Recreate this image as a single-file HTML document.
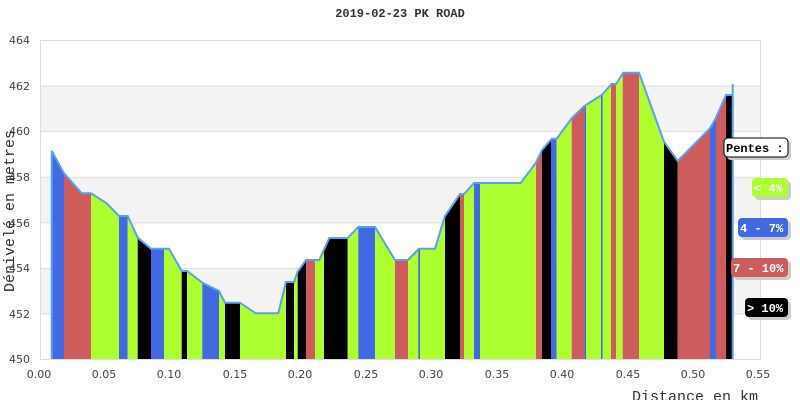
<!DOCTYPE html>
<html><head><meta charset="utf-8"><style>
html,body{margin:0;padding:0;background:#fff;}
svg{display:block;}
.t{font-family:"DejaVu Sans","Liberation Sans",sans-serif;font-size:11px;fill:#444;}
.m{font-family:"Liberation Mono","DejaVu Sans Mono",monospace;font-weight:bold;}
</style></head><body>
<svg width="800" height="400" viewBox="0 0 800 400" xmlns="http://www.w3.org/2000/svg">
<rect width="800" height="400" fill="#fff"/>
<text x="400" y="17" text-anchor="middle" class="m" font-size="12" fill="#333">2019-02-23 PK ROAD</text>
<rect x="40" y="86" width="720" height="45.6" fill="#f3f3f3"/>
<rect x="40" y="177.3" width="720" height="45.6" fill="#f3f3f3"/>
<rect x="40" y="268.4" width="720" height="45.6" fill="#f3f3f3"/>
<g stroke="#ddd" stroke-width="1">
<line x1="40" y1="40.5" x2="760" y2="40.5"/><line x1="40" y1="86" x2="760" y2="86"/>
<line x1="40" y1="131.6" x2="760" y2="131.6"/><line x1="40" y1="177.3" x2="760" y2="177.3"/>
<line x1="40" y1="222.9" x2="760" y2="222.9"/><line x1="40" y1="268.4" x2="760" y2="268.4"/>
<line x1="40" y1="314" x2="760" y2="314"/><line x1="40" y1="359.5" x2="760" y2="359.5"/>
<line x1="40.5" y1="40" x2="40.5" y2="360"/><line x1="760.5" y1="40" x2="760.5" y2="360"/>
</g>
<defs><clipPath id="cp"><polygon points="51.7,359 51.7,150.7 64,173.3 81.7,193.3 91,193.3 106.7,203.3 119,216 127.7,216 137.7,237.7 151,248.7 169,248.7 181.7,271 187,271 202.3,282.7 219,291 225,302.7 240,302.7 255.7,313.3 278.3,313.3 286,282 294,282 297.7,271.7 306,260 319.3,260 329.3,238 347.7,238 358.3,227 375,227 395,260 408,260 419,248.7 435,248.7 445,216 460,194 464,194 474,183 520.7,183 536,162.7 542,150 551.7,138.7 556.7,138.7 571.7,118.3 584.3,106 601.7,95 611.7,84 616,84 623.3,72.7 639,72.7 664,141.7 677.7,161 710,128.3 715.7,118.3 726,95 732.7,95 732.7,359"/></clipPath></defs>
<g clip-path="url(#cp)">
<rect x="51" y="40" width="13" height="320" fill="#4169e1"/>
<rect x="64" y="40" width="27" height="320" fill="#cd5c5c"/>
<rect x="91" y="40" width="28" height="320" fill="#adff2f"/>
<rect x="119" y="40" width="8.7" height="320" fill="#4169e1"/>
<rect x="127.7" y="40" width="10" height="320" fill="#adff2f"/>
<rect x="137.7" y="40" width="13.3" height="320" fill="#000"/>
<rect x="151" y="40" width="13" height="320" fill="#4169e1"/>
<rect x="164" y="40" width="17.7" height="320" fill="#adff2f"/>
<rect x="181.7" y="40" width="5.3" height="320" fill="#000"/>
<rect x="187" y="40" width="15.3" height="320" fill="#adff2f"/>
<rect x="202.3" y="40" width="16.7" height="320" fill="#4169e1"/>
<rect x="219" y="40" width="6" height="320" fill="#adff2f"/>
<rect x="225" y="40" width="15" height="320" fill="#000"/>
<rect x="240" y="40" width="46" height="320" fill="#adff2f"/>
<rect x="286" y="40" width="8" height="320" fill="#000"/>
<rect x="294" y="40" width="3.7" height="320" fill="#adff2f"/>
<rect x="297.7" y="40" width="8.3" height="320" fill="#000"/>
<rect x="306" y="40" width="9" height="320" fill="#cd5c5c"/>
<rect x="315" y="40" width="9" height="320" fill="#adff2f"/>
<rect x="324" y="40" width="23.7" height="320" fill="#000"/>
<rect x="347.7" y="40" width="10.6" height="320" fill="#adff2f"/>
<rect x="358.3" y="40" width="16.7" height="320" fill="#4169e1"/>
<rect x="375" y="40" width="20" height="320" fill="#adff2f"/>
<rect x="395" y="40" width="13" height="320" fill="#cd5c5c"/>
<rect x="408" y="40" width="10.3" height="320" fill="#adff2f"/>
<rect x="418.3" y="40" width="1.7" height="320" fill="#4169e1"/>
<rect x="420" y="40" width="25" height="320" fill="#adff2f"/>
<rect x="445" y="40" width="15" height="320" fill="#000"/>
<rect x="460" y="40" width="4" height="320" fill="#cd5c5c"/>
<rect x="464" y="40" width="10" height="320" fill="#adff2f"/>
<rect x="474" y="40" width="6" height="320" fill="#4169e1"/>
<rect x="480" y="40" width="56" height="320" fill="#adff2f"/>
<rect x="536" y="40" width="6" height="320" fill="#cd5c5c"/>
<rect x="542" y="40" width="9" height="320" fill="#000"/>
<rect x="551" y="40" width="5.7" height="320" fill="#4169e1"/>
<rect x="556.7" y="40" width="15" height="320" fill="#adff2f"/>
<rect x="571.7" y="40" width="12.6" height="320" fill="#cd5c5c"/>
<rect x="584.3" y="40" width="1.7" height="320" fill="#4169e1"/>
<rect x="586" y="40" width="15" height="320" fill="#adff2f"/>
<rect x="601" y="40" width="1.7" height="320" fill="#4169e1"/>
<rect x="602.7" y="40" width="8.3" height="320" fill="#adff2f"/>
<rect x="611" y="40" width="5" height="320" fill="#cd5c5c"/>
<rect x="616" y="40" width="6.7" height="320" fill="#adff2f"/>
<rect x="622.7" y="40" width="16.3" height="320" fill="#cd5c5c"/>
<rect x="639" y="40" width="25" height="320" fill="#adff2f"/>
<rect x="664" y="40" width="13.7" height="320" fill="#000"/>
<rect x="677.7" y="40" width="32.3" height="320" fill="#cd5c5c"/>
<rect x="710" y="40" width="6" height="320" fill="#4169e1"/>
<rect x="716" y="40" width="10" height="320" fill="#cd5c5c"/>
<rect x="726" y="40" width="6.7" height="320" fill="#000"/>
</g>
<polyline fill="none" stroke="#5aa0f0" stroke-width="2" points="51.7,359 51.7,150.7 64,173.3 81.7,193.3 91,193.3 106.7,203.3 119,216 127.7,216 137.7,237.7 151,248.7 169,248.7 181.7,271 187,271 202.3,282.7 219,291 225,302.7 240,302.7 255.7,313.3 278.3,313.3 286,282 294,282 297.7,271.7 306,260 319.3,260 329.3,238 347.7,238 358.3,227 375,227 395,260 408,260 419,248.7 435,248.7 445,216 460,194 464,194 474,183 520.7,183 536,162.7 542,150 551.7,138.7 556.7,138.7 571.7,118.3 584.3,106 601.7,95 611.7,84 616,84 623.3,72.7 639,72.7 664,141.7 677.7,161 710,128.3 715.7,118.3 726,95 732.7,95 732.7,84 732.7,359"/>
<g class="t" text-anchor="end">
<text x="30" y="44">464</text><text x="30" y="90">462</text><text x="30" y="135">460</text>
<text x="30" y="181">458</text><text x="30" y="227">456</text><text x="30" y="272">454</text>
<text x="30" y="318">452</text><text x="30" y="363">450</text>
</g>
<g class="t" text-anchor="middle">
<text x="39" y="378">0.00</text><text x="104" y="378">0.05</text><text x="169" y="378">0.10</text>
<text x="235" y="378">0.15</text><text x="300" y="378">0.20</text><text x="366" y="378">0.25</text>
<text x="431" y="378">0.30</text><text x="497" y="378">0.35</text><text x="562" y="378">0.40</text>
<text x="628" y="378">0.45</text><text x="693" y="378">0.50</text><text x="758" y="378">0.55</text>
</g>
<text transform="translate(14,211) rotate(-90)" text-anchor="middle" font-family="Liberation Mono, DejaVu Sans Mono, monospace" font-size="15" fill="#333">Dénivelé en metres</text>
<text x="758" y="401" text-anchor="end" font-family="Liberation Mono, DejaVu Sans Mono, monospace" font-size="15" fill="#333">Distance en km</text>
<rect x="727" y="141" width="64" height="19" rx="4" fill="#ccc"/>
<rect x="724" y="138" width="64" height="19" rx="4" fill="#fff" stroke="#000"/>
<text x="726" y="152" class="m" font-size="12" fill="#000">Pentes :</text>
<rect x="755" y="181" width="36" height="19" rx="4" fill="#ccc"/>
<rect x="752" y="178" width="36" height="19" rx="4" fill="#adff2f"/>
<text x="754" y="192" class="m" font-size="12" fill="#fff">&lt; 4%</text>
<rect x="741" y="221" width="50" height="19" rx="4" fill="#ccc"/>
<rect x="738" y="218" width="50" height="19" rx="4" fill="#4169e1"/>
<text x="740" y="232" class="m" font-size="12" fill="#fff">4 - 7%</text>
<rect x="734" y="261" width="57" height="19" rx="4" fill="#ccc"/>
<rect x="731" y="258" width="57" height="19" rx="4" fill="#cd5c5c"/>
<text x="733" y="272" class="m" font-size="12" fill="#fff">7 - 10%</text>
<rect x="748" y="301" width="43" height="19" rx="4" fill="#ccc"/>
<rect x="745" y="298" width="43" height="19" rx="4" fill="#000"/>
<text x="747" y="312" class="m" font-size="12" fill="#fff">&gt; 10%</text>
</svg>
</body></html>
